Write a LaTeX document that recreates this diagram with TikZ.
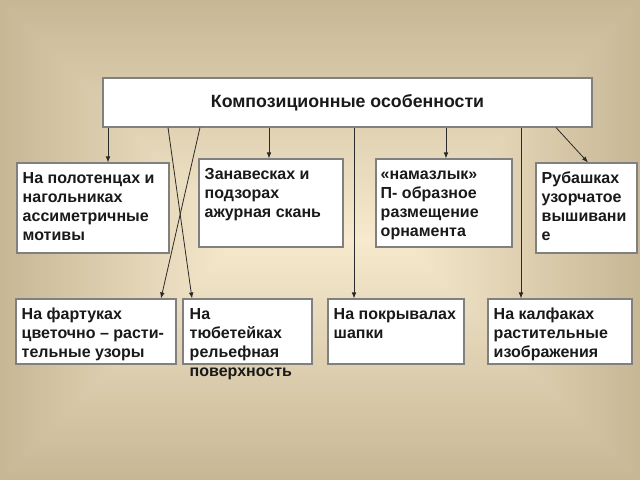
\documentclass[tikz,border=0pt]{standalone}
\usepackage{fontspec}
\setmainfont{Liberation Sans}
\usetikzlibrary{arrows.meta,calc,fit}
\definecolor{bgedge}{HTML}{C7B795}
\definecolor{bgmid}{HTML}{F6E9CD}
\definecolor{boxline}{HTML}{808080}
\definecolor{lnc}{HTML}{2A2A2A}
\begin{document}
\begin{tikzpicture}[x=0.75pt,y=-0.75pt,
  box/.style={draw=boxline,fill=white,line width=0.8pt,inner sep=0pt},
  txt/.style={font=\fontsize{12}{14.25}\selectfont\bfseries,align=left,inner sep=0pt,anchor=north west,text=black!90},
  arr/.style={draw=lnc,line width=0.6pt,-{Latex[length=4.5pt,width=3.5pt]}}]
\useasboundingbox (0,0) rectangle (640,480);
\foreach \i in {0,...,59}{
  \pgfmathsetmacro\p{100*\i/59}
  \fill[bgmid!\p!bgedge] (4*\i,4*\i) rectangle (640-4*\i,480-4*\i);
}
% boxes
\node[box,fit={(103,78) (592,127)}] (T) {};
\node[box,fit={(17,163) (169,253)}] (A) {};
\node[box,fit={(199,159) (343,247)}] (B) {};
\node[box,fit={(376,159) (512,247)}] (C) {};
\node[box,fit={(536,163) (637,253)}] (D) {};
\node[box,fit={(16,299) (176,364)}] (E) {};
\node[box,fit={(183,299) (312,364)}] (F) {};
\node[box,fit={(328,299) (464,364)}] (G) {};
\node[box,fit={(488,299) (632,364)}] (H) {};
% texts
\node[font=\fontsize{13.3}{16}\selectfont\bfseries,text=black!90,inner sep=0pt] (Tt) at (T) {Композиционные особенности};
\node[txt] (At) at ($(A.north west)+(6,7)$) {\strut На полотенцах и\\нагольниках\\ассиметричные\\мотивы};
\node[txt] (Bt) at ($(B.north west)+(6,7)$) {\strut Занавесках и\\подзорах\\ажурная скань};
\node[txt] (Ct) at ($(C.north west)+(5,7)$) {\strut «намазлык»\\П- образное\\размещение\\орнамента};
\node[txt] (Dt) at ($(D.north west)+(6,7)$) {\strut Рубашках\\узорчатое\\вышивани\\е};
\node[txt] (Et) at ($(E.north west)+(6,7)$) {\strut На фартуках\\цветочно – расти-\\тельные узоры};
\node[txt] (Ft) at ($(F.north west)+(7,7)$) {\strut На\\тюбетейках\\рельефная\\поверхность};
\node[txt] (Gt) at ($(G.north west)+(6,7)$) {\strut На покрывалах\\шапки};
\node[txt] (Ht) at ($(H.north west)+(6,7)$) {\strut На калфаках\\растительные\\изображения};
% connector x positions
\coordinate (xa) at (108,0);
\coordinate (xb) at (269,0);
\coordinate (xc) at (446,0);
\coordinate (xd1) at (556,0);
\coordinate (xd2) at (588,0);
\coordinate (xf1) at (168,0);
\coordinate (xf2) at (192,0);
\coordinate (xe1) at (200,0);
\coordinate (xe2) at (161,0);
\coordinate (xg) at (354,0);
\coordinate (xh) at (521,0);
% connectors
\draw[arr] (xa |- T.south) -- (xa |- A.north);
\draw[arr] (xb |- T.south) -- (xb |- B.north);
\draw[arr] (xc |- T.south) -- (xc |- C.north);
\draw[arr] (xd1 |- T.south) -- (xd2 |- D.north);
\draw[arr] (xf1 |- T.south) -- (xf2 |- F.north);
\draw[arr] (xe1 |- T.south) -- (xe2 |- E.north);
\draw[arr] (xg |- T.south) -- (xg |- G.north);
\draw[arr] (xh |- T.south) -- (xh |- H.north);
\end{tikzpicture}
\end{document}
